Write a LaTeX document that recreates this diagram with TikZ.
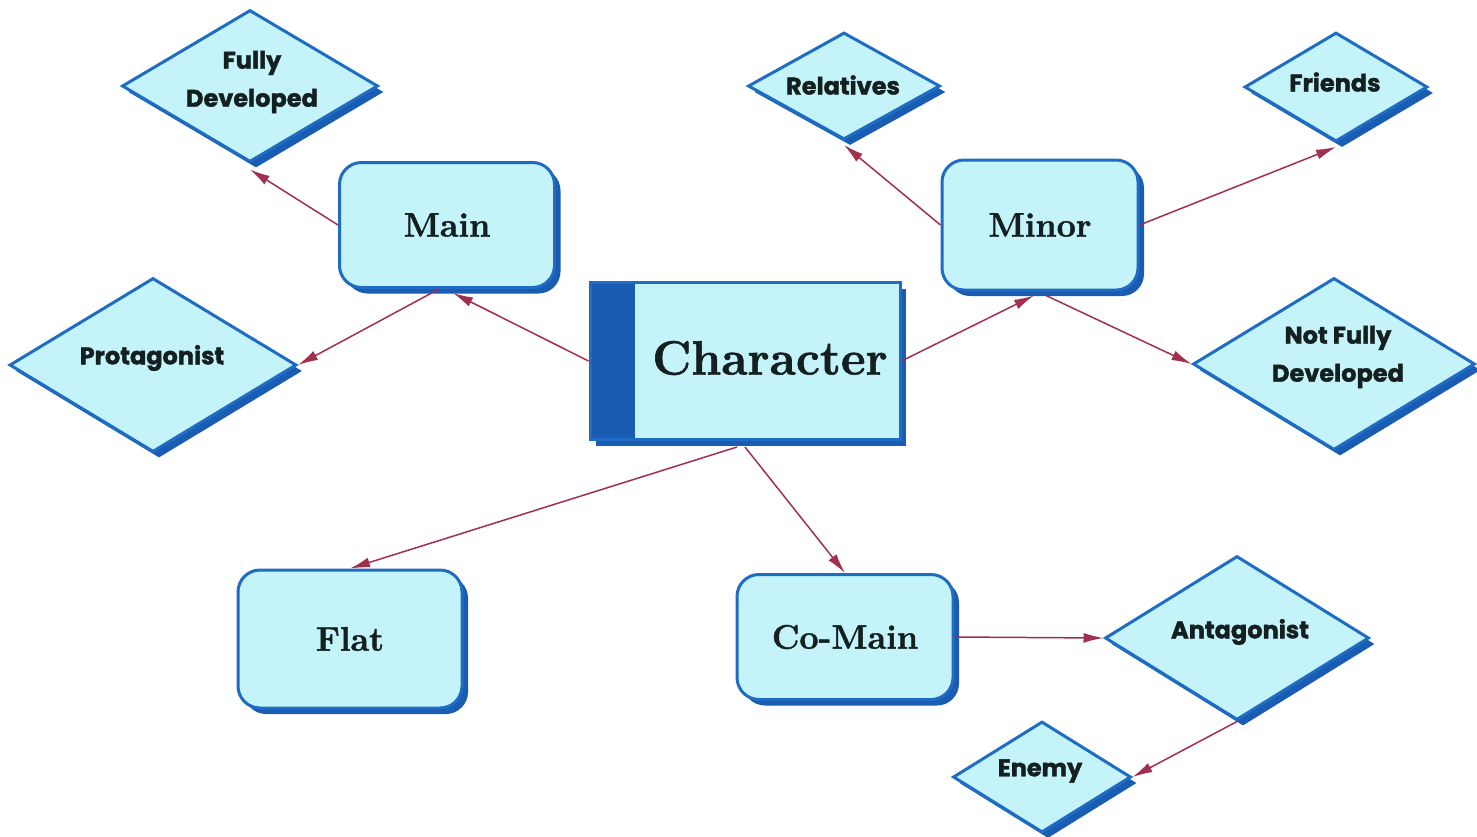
\documentclass[tikz,border=0pt]{standalone}
\usepackage{fontspec}
\newfontfamily\tagfont{Poppins}[BoldFeatures={FakeBold=1.6}]
\newfontfamily\cardfont{Latin Modern Roman}[BoldFeatures={FakeBold=1.3}]
\usetikzlibrary{shapes.geometric,shadows,arrows.meta}
\definecolor{boxfill}{RGB}{196,244,250}
\definecolor{boxline}{RGB}{30,108,196}
\definecolor{boxshade}{RGB}{26,92,178}
\definecolor{linkred}{RGB}{160,48,78}
\definecolor{ink}{RGB}{20,32,32}

\begin{document}
\begin{tikzpicture}[x=0.5pt,y=-0.5pt,
  shaded/.style={fill=boxfill, draw=boxline, line width=1.5pt,
    drop shadow={shadow xshift=3pt, shadow yshift=-3pt, fill=boxshade, opacity=1}},
  card/.style={shaded, rectangle, rounded corners=11pt, inner sep=0pt,
    font=\cardfont\bfseries\fontsize{17}{20}\selectfont, text=ink},
  tag/.style={shaded, diamond, inner sep=0pt},
  tagtext/.style={font=\tagfont\bfseries\fontsize{12}{19}\selectfont, text=ink, align=center},
  link/.style={draw=linkred, line width=0.75pt, -{Latex[length=10pt,width=5pt]}}
]
\useasboundingbox (0,0) rectangle (1477,836);

% central node with its dark side band
\node[shaded, rectangle, inner sep=0pt, minimum width=155pt, minimum height=78.5pt,
  path picture={\fill[boxshade] (path picture bounding box.north west)
    rectangle ([xshift=22.5pt]path picture bounding box.south west);}]
  (char) at (745,361) {};
\node[font=\cardfont\bfseries\fontsize{24}{28}\selectfont, text=ink] (chartext) at (770,358) {Character};

% rounded boxes
\node[card, minimum width=107.5pt, minimum height=62.5pt] (main)   at (447,225) {Main};
\node[card, minimum width=98pt,    minimum height=65pt]   (minor)  at (1040,225) {Minor};
\node[card, minimum width=112pt,   minimum height=69pt]   (flat)   at (350,639) {Flat};
\node[card, minimum width=108pt,   minimum height=62.5pt] (comain) at (845,637) {Co-Main};

% diamonds
\node[tag, minimum width=128pt,   minimum height=76pt]   (fd)    at (250,86) {};
\node[tag, minimum width=143.5pt, minimum height=87pt]   (prot)  at (153,365) {};
\node[tag, minimum width=96pt,    minimum height=53.5pt] (rel)   at (844,86) {};
\node[tag, minimum width=91.5pt,  minimum height=54.5pt] (fr)    at (1336,87) {};
\node[tag, minimum width=141pt,   minimum height=86pt]   (nfd)   at (1334,364) {};
\node[tag, minimum width=132pt,   minimum height=82pt]   (ant)   at (1237,638) {};
\node[tag, minimum width=89pt,    minimum height=55.5pt] (enemy) at (1042,777) {};

\node[tagtext] (fdtext)    at (252,82)  {Fully\\Developed};
\node[tagtext] (prottext)  at (152,358) {Protagonist};
\node[tagtext] (reltext)   at (843,85)  {Relatives};
\node[tagtext] (frtext)    at (1335,82) {Friends};
\node[tagtext] (nfdtext)   at (1338,357) {Not Fully\\Developed};
\node[tagtext] (anttext)   at (1240,632) {Antagonist};
\node[tagtext] (enemytext) at (1040,771) {Enemy};

% connectors
\draw[link] (main.west) -- ([yshift=-3pt]fd.south);
\draw[link] ([xshift=-4pt]main.south) -- (prot.east);
\draw[link] (char.west) -- ([xshift=3pt,yshift=-2pt]main.south);
\draw[link] (char.east) -- ([xshift=-3pt,yshift=-2pt]minor.south);
\draw[link] (minor.west) -- ([yshift=-2pt]rel.south);
\draw[link] (minor.east) -- ([yshift=-2pt]fr.south);
\draw[link] ([xshift=3pt,yshift=-2pt]minor.south) -- (nfd.west);
\draw[link] ([xshift=-4pt,yshift=-3pt]char.south) -- (flat.north);
\draw[link] ([yshift=-3pt]char.south) -- (comain.north);
\draw[link] (comain.east) -- (ant.west);
\draw[link] (ant.south) -- (enemy.east);
\end{tikzpicture}
\end{document}
